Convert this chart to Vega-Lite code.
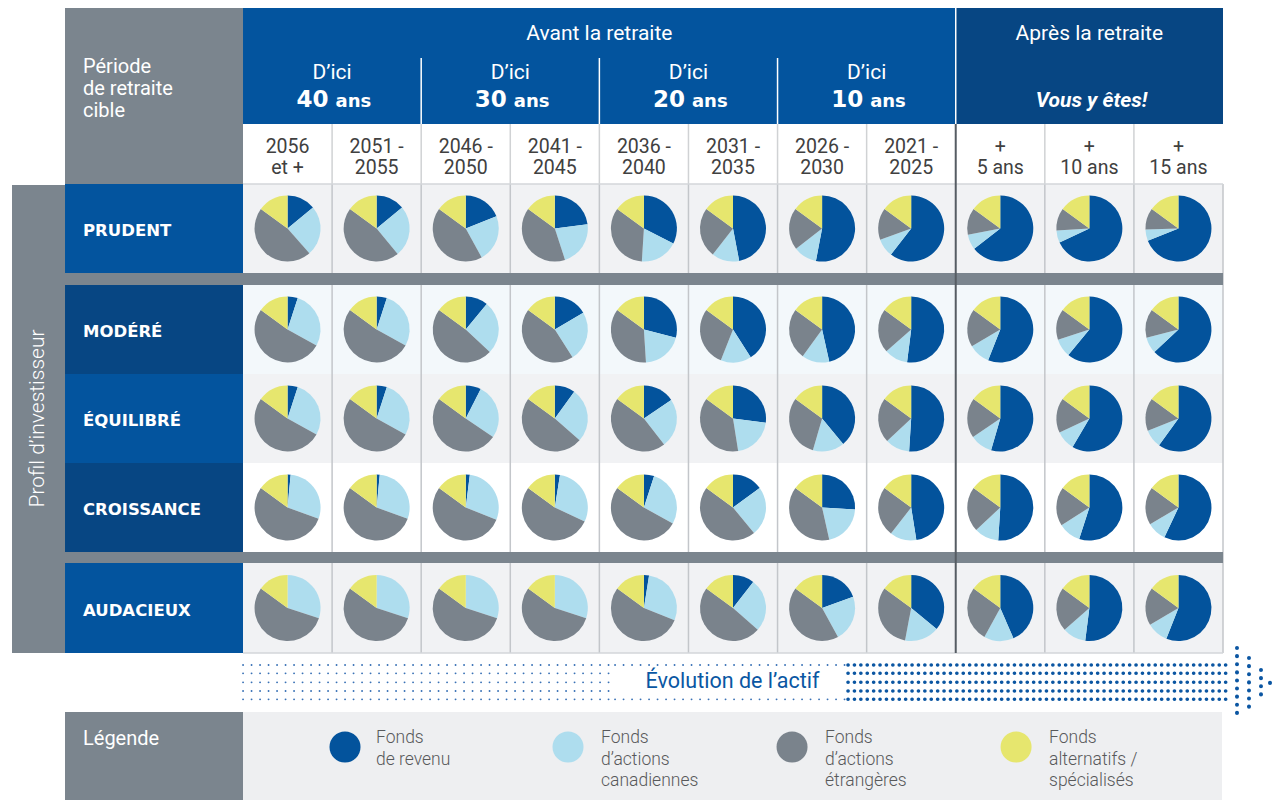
{
"$schema":"https://vega.github.io/schema/vega-lite/v6.json",
"width":1273,"height":800,"padding":0,"autosize":{"type":"none"},"background":"#ffffff",
"config":{"view":{"stroke":null}},
"datasets":{
"periods":[
{"period":"2056 et +","label":"2056\net +","col":0},
{"period":"2051-2055","label":"2051 -\n2055","col":1},
{"period":"2046-2050","label":"2046 -\n2050","col":2},
{"period":"2041-2045","label":"2041 -\n2045","col":3},
{"period":"2036-2040","label":"2036 -\n2040","col":4},
{"period":"2031-2035","label":"2031 -\n2035","col":5},
{"period":"2026-2030","label":"2026 -\n2030","col":6},
{"period":"2021-2025","label":"2021 -\n2025","col":7},
{"period":"+5 ans","label":"+\n5 ans","col":8},
{"period":"+10 ans","label":"+\n10 ans","col":9},
{"period":"+15 ans","label":"+\n15 ans","col":10}],
"profiles":[
{"profile":"PRUDENT","yc":0},
{"profile":"MODÉRÉ","yc":1.1337},
{"profile":"ÉQUILIBRÉ","yc":2.1327},
{"profile":"CROISSANCE","yc":3.1317},
{"profile":"AUDACIEUX","yc":4.2598}],
"funds":[
{"fund":"revenu","k":1,"label":"Fonds\nde revenu","lx":0.6449,"tx":0.9932},
{"fund":"canadiennes","k":2,"label":"Fonds\nd’actions\ncanadiennes","lx":3.148,"tx":3.5188},
{"fund":"etrangeres","k":3,"label":"Fonds\nd’actions\nétrangères","lx":5.6627,"tx":6.033},
{"fund":"alternatifs","k":4,"label":"Fonds\nalternatifs /\nspécialisés","lx":8.1773,"tx":8.5473}],
"alloc":[
{"profile":"PRUDENT","period":"2056 et +","revenu":14,"canadiennes":24.5,"etrangeres":46.5,"alternatifs":15},
{"profile":"PRUDENT","period":"2051-2055","revenu":14,"canadiennes":25,"etrangeres":46,"alternatifs":15},
{"profile":"PRUDENT","period":"2046-2050","revenu":19,"canadiennes":23,"etrangeres":43,"alternatifs":15},
{"profile":"PRUDENT","period":"2041-2045","revenu":23,"canadiennes":22,"etrangeres":40,"alternatifs":15},
{"profile":"PRUDENT","period":"2036-2040","revenu":32.5,"canadiennes":18.5,"etrangeres":34,"alternatifs":15},
{"profile":"PRUDENT","period":"2031-2035","revenu":47,"canadiennes":13.5,"etrangeres":24.5,"alternatifs":15},
{"profile":"PRUDENT","period":"2026-2030","revenu":53,"canadiennes":11.5,"etrangeres":20.5,"alternatifs":15},
{"profile":"PRUDENT","period":"2021-2025","revenu":60.5,"canadiennes":9,"etrangeres":15.5,"alternatifs":15},
{"profile":"PRUDENT","period":"+5 ans","revenu":64.5,"canadiennes":7.5,"etrangeres":13,"alternatifs":15},
{"profile":"PRUDENT","period":"+10 ans","revenu":68,"canadiennes":6,"etrangeres":11,"alternatifs":15},
{"profile":"PRUDENT","period":"+15 ans","revenu":69,"canadiennes":5.5,"etrangeres":10.5,"alternatifs":15},
{"profile":"MODÉRÉ","period":"2056 et +","revenu":5,"canadiennes":28,"etrangeres":52,"alternatifs":15},
{"profile":"MODÉRÉ","period":"2051-2055","revenu":5,"canadiennes":28,"etrangeres":52,"alternatifs":15},
{"profile":"MODÉRÉ","period":"2046-2050","revenu":11,"canadiennes":26,"etrangeres":48,"alternatifs":15},
{"profile":"MODÉRÉ","period":"2041-2045","revenu":16.5,"canadiennes":24.5,"etrangeres":44,"alternatifs":15},
{"profile":"MODÉRÉ","period":"2036-2040","revenu":29,"canadiennes":20,"etrangeres":36,"alternatifs":15},
{"profile":"MODÉRÉ","period":"2031-2035","revenu":41,"canadiennes":15,"etrangeres":29,"alternatifs":15},
{"profile":"MODÉRÉ","period":"2026-2030","revenu":46.5,"canadiennes":13.5,"etrangeres":25,"alternatifs":15},
{"profile":"MODÉRÉ","period":"2021-2025","revenu":52,"canadiennes":11.5,"etrangeres":21.5,"alternatifs":15},
{"profile":"MODÉRÉ","period":"+5 ans","revenu":56,"canadiennes":10.5,"etrangeres":18.5,"alternatifs":15},
{"profile":"MODÉRÉ","period":"+10 ans","revenu":61,"canadiennes":9,"etrangeres":15,"alternatifs":15},
{"profile":"MODÉRÉ","period":"+15 ans","revenu":63,"canadiennes":8,"etrangeres":14,"alternatifs":15},
{"profile":"ÉQUILIBRÉ","period":"2056 et +","revenu":5,"canadiennes":28,"etrangeres":52,"alternatifs":15},
{"profile":"ÉQUILIBRÉ","period":"2051-2055","revenu":5,"canadiennes":28,"etrangeres":52,"alternatifs":15},
{"profile":"ÉQUILIBRÉ","period":"2046-2050","revenu":7.5,"canadiennes":27,"etrangeres":50.5,"alternatifs":15},
{"profile":"ÉQUILIBRÉ","period":"2041-2045","revenu":10,"canadiennes":26.5,"etrangeres":48.5,"alternatifs":15},
{"profile":"ÉQUILIBRÉ","period":"2036-2040","revenu":15.5,"canadiennes":24,"etrangeres":45.5,"alternatifs":15},
{"profile":"ÉQUILIBRÉ","period":"2031-2035","revenu":27,"canadiennes":20.5,"etrangeres":37.5,"alternatifs":15},
{"profile":"ÉQUILIBRÉ","period":"2026-2030","revenu":39,"canadiennes":15.5,"etrangeres":30.5,"alternatifs":15},
{"profile":"ÉQUILIBRÉ","period":"2021-2025","revenu":51,"canadiennes":12,"etrangeres":22,"alternatifs":15},
{"profile":"ÉQUILIBRÉ","period":"+5 ans","revenu":54.5,"canadiennes":11,"etrangeres":19.5,"alternatifs":15},
{"profile":"ÉQUILIBRÉ","period":"+10 ans","revenu":58.5,"canadiennes":9.5,"etrangeres":17,"alternatifs":15},
{"profile":"ÉQUILIBRÉ","period":"+15 ans","revenu":60,"canadiennes":9,"etrangeres":16,"alternatifs":15},
{"profile":"CROISSANCE","period":"2056 et +","revenu":1.5,"canadiennes":29,"etrangeres":54.5,"alternatifs":15},
{"profile":"CROISSANCE","period":"2051-2055","revenu":1.5,"canadiennes":29,"etrangeres":54.5,"alternatifs":15},
{"profile":"CROISSANCE","period":"2046-2050","revenu":2,"canadiennes":29,"etrangeres":54,"alternatifs":15},
{"profile":"CROISSANCE","period":"2041-2045","revenu":2.5,"canadiennes":29.5,"etrangeres":53,"alternatifs":15},
{"profile":"CROISSANCE","period":"2036-2040","revenu":5,"canadiennes":28,"etrangeres":52,"alternatifs":15},
{"profile":"CROISSANCE","period":"2031-2035","revenu":15,"canadiennes":24,"etrangeres":46,"alternatifs":15},
{"profile":"CROISSANCE","period":"2026-2030","revenu":26,"canadiennes":20.5,"etrangeres":38.5,"alternatifs":15},
{"profile":"CROISSANCE","period":"2021-2025","revenu":47.5,"canadiennes":13,"etrangeres":24.5,"alternatifs":15},
{"profile":"CROISSANCE","period":"+5 ans","revenu":51,"canadiennes":12,"etrangeres":22,"alternatifs":15},
{"profile":"CROISSANCE","period":"+10 ans","revenu":55,"canadiennes":11,"etrangeres":19,"alternatifs":15},
{"profile":"CROISSANCE","period":"+15 ans","revenu":57,"canadiennes":9.5,"etrangeres":18.5,"alternatifs":15},
{"profile":"AUDACIEUX","period":"2056 et +","revenu":0,"canadiennes":30,"etrangeres":55,"alternatifs":15},
{"profile":"AUDACIEUX","period":"2051-2055","revenu":0,"canadiennes":30,"etrangeres":55,"alternatifs":15},
{"profile":"AUDACIEUX","period":"2046-2050","revenu":0,"canadiennes":30,"etrangeres":55,"alternatifs":15},
{"profile":"AUDACIEUX","period":"2041-2045","revenu":0,"canadiennes":30,"etrangeres":55,"alternatifs":15},
{"profile":"AUDACIEUX","period":"2036-2040","revenu":2.5,"canadiennes":28.5,"etrangeres":54,"alternatifs":15},
{"profile":"AUDACIEUX","period":"2031-2035","revenu":10.5,"canadiennes":26,"etrangeres":48.5,"alternatifs":15},
{"profile":"AUDACIEUX","period":"2026-2030","revenu":19.5,"canadiennes":22.5,"etrangeres":43,"alternatifs":15},
{"profile":"AUDACIEUX","period":"2021-2025","revenu":36,"canadiennes":17,"etrangeres":32,"alternatifs":15},
{"profile":"AUDACIEUX","period":"+5 ans","revenu":43.5,"canadiennes":14.5,"etrangeres":27,"alternatifs":15},
{"profile":"AUDACIEUX","period":"+10 ans","revenu":52,"canadiennes":11.5,"etrangeres":21.5,"alternatifs":15},
{"profile":"AUDACIEUX","period":"+15 ans","revenu":56,"canadiennes":10.5,"etrangeres":18.5,"alternatifs":15}],
"rects":[
{"x":-2.498,"x2":-0.5,"y":-2.475,"y2":-0.4995,"kind":"gray"},
{"x":-0.5,"x2":7.5,"y":-2.475,"y2":-1.173,"kind":"blue"},
{"x":7.5,"x2":10.5,"y":-2.475,"y2":-1.173,"kind":"dark"},
{"x":-0.5,"x2":10.5,"y":-1.173,"y2":-0.4995,"kind":"white"},
{"x":-3.0929,"x2":-2.498,"y":-0.4883,"y2":4.7649,"kind":"gray"},
{"x":-2.498,"x2":-0.5,"y":-0.4995,"y2":0.4995,"kind":"blue"},
{"x":-0.5,"x2":10.5,"y":-0.4995,"y2":0.4995,"kind":"cellA"},
{"x":-2.498,"x2":-0.5,"y":0.6342,"y2":1.6332,"kind":"dark"},
{"x":-0.5,"x2":10.5,"y":0.6342,"y2":1.6332,"kind":"cellB"},
{"x":-2.498,"x2":-0.5,"y":1.6332,"y2":2.6322,"kind":"blue"},
{"x":-0.5,"x2":10.5,"y":1.6332,"y2":2.6322,"kind":"cellA"},
{"x":-2.498,"x2":-0.5,"y":2.6322,"y2":3.6312,"kind":"dark"},
{"x":-0.5,"x2":10.5,"y":2.6322,"y2":3.6312,"kind":"white"},
{"x":-2.498,"x2":-0.5,"y":3.7546,"y2":4.7649,"kind":"blue"},
{"x":-0.5,"x2":10.5,"y":3.7546,"y2":4.7649,"kind":"cellA"},
{"x":-2.498,"x2":-0.5,"y":5.4271,"y2":6.4149,"kind":"gray"},
{"x":-0.5,"x2":10.489,"y":5.4271,"y2":6.4149,"kind":"legend"}],
"gaps":[
{"x":-2.498,"x2":10.5,"y":0.4995,"y2":0.6342},
{"x":-2.498,"x2":10.5,"y":3.6312,"y2":3.7546}],
"lines":[
{"kind":"ysep","x":0.5,"y":-1.173,"y2":-0.4995},{"kind":"ysep","x":1.5,"y":-1.173,"y2":-0.4995},{"kind":"ysep","x":2.5,"y":-1.173,"y2":-0.4995},{"kind":"ysep","x":3.5,"y":-1.173,"y2":-0.4995},{"kind":"ysep","x":4.5,"y":-1.173,"y2":-0.4995},{"kind":"ysep","x":5.5,"y":-1.173,"y2":-0.4995},{"kind":"ysep","x":6.5,"y":-1.173,"y2":-0.4995},{"kind":"ysep","x":8.5,"y":-1.173,"y2":-0.4995},{"kind":"ysep","x":9.5,"y":-1.173,"y2":-0.4995},
{"kind":"gsep","x":0.5,"y":-0.4995,"y2":4.7649},{"kind":"gsep","x":1.5,"y":-0.4995,"y2":4.7649},{"kind":"gsep","x":2.5,"y":-0.4995,"y2":4.7649},{"kind":"gsep","x":3.5,"y":-0.4995,"y2":4.7649},{"kind":"gsep","x":4.5,"y":-0.4995,"y2":4.7649},{"kind":"gsep","x":5.5,"y":-0.4995,"y2":4.7649},{"kind":"gsep","x":6.5,"y":-0.4995,"y2":4.7649},{"kind":"gsep","x":8.5,"y":-0.4995,"y2":4.7649},{"kind":"gsep","x":9.5,"y":-0.4995,"y2":4.7649},{"kind":"gsep","x":10.5,"y":-0.4995,"y2":4.7649},
{"kind":"main","x":7.5,"y":-1.173,"y2":4.7649},
{"kind":"hsep","x":1.5,"y":-1.9138,"y2":-1.173},{"kind":"hsep","x":3.5,"y":-1.9138,"y2":-1.173},{"kind":"hsep","x":5.5,"y":-1.9138,"y2":-1.173},{"kind":"hsep","x":7.5,"y":-2.475,"y2":-1.173}],
"hlines":[{"x":-0.5,"x2":10.5,"y":-0.4995},{"x":-0.5,"x2":10.5,"y":4.7649}],
"labels":[
{"style":"hdr","txt":"Avant la retraite","x":3.5,"y":-2.181},
{"style":"hdr","txt":"Après la retraite","x":9.0,"y":-2.181},
{"style":"hdr","txt":"D’ici","x":0.5,"y":-1.742},
{"style":"hdr","txt":"D’ici","x":2.5,"y":-1.742},
{"style":"hdr","txt":"D’ici","x":4.5,"y":-1.742},
{"style":"hdr","txt":"D’ici","x":6.5,"y":-1.742},
{"style":"left","txt":"Période\nde retraite\ncible","x":-2.296,"y":-1.81},
{"style":"left","txt":"Légende","x":-2.296,"y":5.7301},
{"style":"num","txt":"40","x":0.5,"y":-1.3672},
{"style":"num","txt":"30","x":2.5,"y":-1.3672},
{"style":"num","txt":"20","x":4.5,"y":-1.3672},
{"style":"num","txt":"10","x":6.5,"y":-1.3672},
{"style":"ans","txt":"ans","x":0.5,"y":-1.3672},
{"style":"ans","txt":"ans","x":2.5,"y":-1.3672},
{"style":"ans","txt":"ans","x":4.5,"y":-1.3672},
{"style":"ans","txt":"ans","x":6.5,"y":-1.3672},
{"style":"vous","txt":"Vous y êtes!","x":9.024,"y":-1.3672},
{"style":"strip","txt":"Profil d’investisseur","x":-2.801,"y":2.1327},
{"style":"evol","txt":"Évolution de l’actif","x":4.9945,"y":5.0938}],
"dots":[
{"kind":"small","x":-0.5,"x2":3.6755,"y":4.8996},
{"kind":"small","x":-0.5,"x2":3.6755,"y":4.9927},
{"kind":"small","x":-0.5,"x2":3.6755,"y":5.0938},
{"kind":"small","x":-0.5,"x2":3.6755,"y":5.1914},
{"kind":"small","x":-0.5,"x2":3.6755,"y":5.2846},
{"kind":"small","x":3.6755,"x2":6.2908,"y":4.8996},
{"kind":"small","x":3.6755,"x2":6.2908,"y":5.2846},
{"kind":"big","x":6.2908,"x2":10.55,"y":4.8996},
{"kind":"big","x":6.2908,"x2":10.55,"y":4.9927},
{"kind":"big","x":6.2908,"x2":10.55,"y":5.0938},
{"kind":"big","x":6.2908,"x2":10.55,"y":5.1914},
{"kind":"big","x":6.2908,"x2":10.55,"y":5.2846}],
"arrow":[
{"x":10.6571,"y":4.7087,"y2":5.4944},
{"x":10.7918,"y":4.8209,"y2":5.3822},
{"x":10.9265,"y":4.9556,"y2":5.2587},
{"x":11.0275,"y":5.1,"y2":5.11}]
},
"layer":[
{"data":{"name":"rects"},"mark":{"type":"rect","strokeWidth":0},
 "encoding":{"x":{"field":"x","type":"quantitative","scale":{"domain":[-3.2277,11.0612],"nice":false,"zero":false},"axis":null},"x2":{"field":"x2"},
 "y":{"field":"y","type":"quantitative","scale":{"domain":[-2.5648,6.4149],"nice":false,"zero":false,"reverse":true},"axis":null},"y2":{"field":"y2"},
 "fill":{"field":"kind","type":"nominal","scale":{"domain":["gray","blue","dark","white","cellA","cellB","legend"],"range":["#7B858E","#03549E","#074683","#FFFFFF","#F1F2F4","#F3F8FB","#EEEFF1"]},"legend":null}}},
{"data":{"name":"lines"},"transform":[{"filter":"datum.kind==='ysep'"}],"mark":{"type":"rule","stroke":"#D0D2D4","strokeWidth":1.5},
 "encoding":{"x":{"field":"x","type":"quantitative","scale":{"domain":[-3.2277,11.0612],"nice":false,"zero":false},"axis":null},
 "y":{"field":"y","type":"quantitative","scale":{"domain":[-2.5648,6.4149],"nice":false,"zero":false,"reverse":true},"axis":null},"y2":{"field":"y2"}}},
{"data":{"name":"lines"},"transform":[{"filter":"datum.kind==='gsep'"}],"mark":{"type":"rule","stroke":"#C3C6CA","strokeWidth":1.5},
 "encoding":{"x":{"field":"x","type":"quantitative","scale":{"domain":[-3.2277,11.0612],"nice":false,"zero":false},"axis":null},
 "y":{"field":"y","type":"quantitative","scale":{"domain":[-2.5648,6.4149],"nice":false,"zero":false,"reverse":true},"axis":null},"y2":{"field":"y2"}}},
{"data":{"name":"hlines"},"mark":{"type":"rule","stroke":"#D3D6DA","strokeWidth":1.5},
 "encoding":{"x":{"field":"x","type":"quantitative","scale":{"domain":[-3.2277,11.0612],"nice":false,"zero":false},"axis":null},"x2":{"field":"x2"},
 "y":{"field":"y","type":"quantitative","scale":{"domain":[-2.5648,6.4149],"nice":false,"zero":false,"reverse":true},"axis":null}}},
{"data":{"name":"gaps"},"mark":{"type":"rect","fill":"#7B858E","strokeWidth":0},
 "encoding":{"x":{"field":"x","type":"quantitative","scale":{"domain":[-3.2277,11.0612],"nice":false,"zero":false},"axis":null},"x2":{"field":"x2"},
 "y":{"field":"y","type":"quantitative","scale":{"domain":[-2.5648,6.4149],"nice":false,"zero":false,"reverse":true},"axis":null},"y2":{"field":"y2"}}},
{"data":{"name":"lines"},"transform":[{"filter":"datum.kind==='main'"}],"mark":{"type":"rule","stroke":"#565C63","strokeWidth":2},
 "encoding":{"x":{"field":"x","type":"quantitative","scale":{"domain":[-3.2277,11.0612],"nice":false,"zero":false},"axis":null},
 "y":{"field":"y","type":"quantitative","scale":{"domain":[-2.5648,6.4149],"nice":false,"zero":false,"reverse":true},"axis":null},"y2":{"field":"y2"}}},
{"data":{"name":"lines"},"transform":[{"filter":"datum.kind==='hsep'"}],"mark":{"type":"rule","stroke":"#FFFFFF","strokeWidth":1.5},
 "encoding":{"x":{"field":"x","type":"quantitative","scale":{"domain":[-3.2277,11.0612],"nice":false,"zero":false},"axis":null},
 "y":{"field":"y","type":"quantitative","scale":{"domain":[-2.5648,6.4149],"nice":false,"zero":false,"reverse":true},"axis":null},"y2":{"field":"y2"}}},
{"data":{"name":"alloc"},
 "transform":[
  {"fold":["revenu","canadiennes","etrangeres","alternatifs"],"as":["fund","share"]},
  {"lookup":"fund","from":{"data":{"name":"funds"},"key":"fund","fields":["k"]}},
  {"lookup":"period","from":{"data":{"name":"periods"},"key":"period","fields":["col"]}},
  {"lookup":"profile","from":{"data":{"name":"profiles"},"key":"profile","fields":["yc"]}},
  {"stack":"share","groupby":["profile","period"],"sort":[{"field":"k","order":"ascending"}],"offset":"normalize","as":["t0","t1"]}],
 "mark":{"type":"arc","outerRadius":33},
 "encoding":{"x":{"field":"col","type":"quantitative","scale":{"domain":[-3.2277,11.0612],"nice":false,"zero":false},"axis":null},
 "y":{"field":"yc","type":"quantitative","scale":{"domain":[-2.5648,6.4149],"nice":false,"zero":false,"reverse":true},"axis":null},
 "theta":{"field":"t0","type":"quantitative","stack":null,"scale":{"domain":[0,1]}},"theta2":{"field":"t1"},
 "color":{"field":"fund","type":"nominal","scale":{"domain":["revenu","canadiennes","etrangeres","alternatifs"],"range":["#03539C","#AEDDEE","#7A838C","#E6E66E"]},"legend":null}}},
{"data":{"name":"funds"},"mark":{"type":"point","shape":"circle","filled":true,"size":962,"opacity":1},
 "encoding":{"x":{"field":"lx","type":"quantitative","scale":{"domain":[-3.2277,11.0612],"nice":false,"zero":false},"axis":null},
 "y":{"datum":5.82,"type":"quantitative","scale":{"domain":[-2.5648,6.4149],"nice":false,"zero":false,"reverse":true},"axis":null},
 "color":{"field":"fund","type":"nominal","scale":{"domain":["revenu","canadiennes","etrangeres","alternatifs"],"range":["#03539C","#AEDDEE","#7A838C","#E6E66E"]},"legend":null}}},
{"data":{"name":"funds"},"mark":{"type":"text","font":"Roboto","fontWeight":300,"fontSize":17.5,"fill":"#58595B","align":"left","baseline":"middle","lineBreak":"\n","lineHeight":21.6},
 "encoding":{"x":{"field":"tx","type":"quantitative","scale":{"domain":[-3.2277,11.0612],"nice":false,"zero":false},"axis":null},
 "y":{"datum":5.7223,"type":"quantitative","scale":{"domain":[-2.5648,6.4149],"nice":false,"zero":false,"reverse":true},"axis":null},
 "text":{"field":"label"}}},
{"data":{"name":"periods"},"mark":{"type":"text","font":"Roboto","fontSize":19.5,"fill":"#404040","align":"center","baseline":"middle","lineBreak":"\n","lineHeight":21,"dy":2},
 "encoding":{"x":{"field":"col","type":"quantitative","scale":{"domain":[-3.2277,11.0612],"nice":false,"zero":false},"axis":null},
 "y":{"datum":-0.9373,"type":"quantitative","scale":{"domain":[-2.5648,6.4149],"nice":false,"zero":false,"reverse":true},"axis":null},
 "text":{"field":"label"}}},
{"data":{"name":"profiles"},"mark":{"type":"text","font":"DejaVu Sans","fontWeight":"bold","fontSize":16.5,"fill":"#FFFFFF","align":"left","baseline":"middle","dy":2.5},
 "encoding":{"x":{"datum":-2.296,"type":"quantitative","scale":{"domain":[-3.2277,11.0612],"nice":false,"zero":false},"axis":null},
 "y":{"field":"yc","type":"quantitative","scale":{"domain":[-2.5648,6.4149],"nice":false,"zero":false,"reverse":true},"axis":null},
 "text":{"field":"profile"}}},
{"data":{"name":"labels"},"transform":[{"filter":"datum.style==='hdr'"}],"mark":{"type":"text","font":"Roboto","fontSize":21,"fill":"#FFFFFF","align":"center","baseline":"middle"},
 "encoding":{"x":{"field":"x","type":"quantitative","scale":{"domain":[-3.2277,11.0612],"nice":false,"zero":false},"axis":null},
 "y":{"field":"y","type":"quantitative","scale":{"domain":[-2.5648,6.4149],"nice":false,"zero":false,"reverse":true},"axis":null},"text":{"field":"txt"}}},
{"data":{"name":"labels"},"transform":[{"filter":"datum.style==='left'"}],"mark":{"type":"text","font":"Roboto","fontSize":20,"fill":"#FFFFFF","align":"left","baseline":"middle","lineBreak":"\n","lineHeight":21.7},
 "encoding":{"x":{"field":"x","type":"quantitative","scale":{"domain":[-3.2277,11.0612],"nice":false,"zero":false},"axis":null},
 "y":{"field":"y","type":"quantitative","scale":{"domain":[-2.5648,6.4149],"nice":false,"zero":false,"reverse":true},"axis":null},"text":{"field":"txt"}}},
{"data":{"name":"labels"},"transform":[{"filter":"datum.style==='num'"}],"mark":{"type":"text","font":"DejaVu Sans","fontWeight":"bold","fontSize":23,"fill":"#FFFFFF","align":"right","baseline":"alphabetic","dx":-3.5},
 "encoding":{"x":{"field":"x","type":"quantitative","scale":{"domain":[-3.2277,11.0612],"nice":false,"zero":false},"axis":null},
 "y":{"field":"y","type":"quantitative","scale":{"domain":[-2.5648,6.4149],"nice":false,"zero":false,"reverse":true},"axis":null},"text":{"field":"txt"}}},
{"data":{"name":"labels"},"transform":[{"filter":"datum.style==='ans'"}],"mark":{"type":"text","font":"DejaVu Sans","fontWeight":"bold","fontSize":18,"fill":"#FFFFFF","align":"left","baseline":"alphabetic","dx":3.5},
 "encoding":{"x":{"field":"x","type":"quantitative","scale":{"domain":[-3.2277,11.0612],"nice":false,"zero":false},"axis":null},
 "y":{"field":"y","type":"quantitative","scale":{"domain":[-2.5648,6.4149],"nice":false,"zero":false,"reverse":true},"axis":null},"text":{"field":"txt"}}},
{"data":{"name":"labels"},"transform":[{"filter":"datum.style==='vous'"}],"mark":{"type":"text","font":"Roboto","fontWeight":"bold","fontStyle":"italic","fontSize":21,"fill":"#FFFFFF","align":"center","baseline":"alphabetic"},
 "encoding":{"x":{"field":"x","type":"quantitative","scale":{"domain":[-3.2277,11.0612],"nice":false,"zero":false},"axis":null},
 "y":{"field":"y","type":"quantitative","scale":{"domain":[-2.5648,6.4149],"nice":false,"zero":false,"reverse":true},"axis":null},"text":{"field":"txt"}}},
{"data":{"name":"labels"},"transform":[{"filter":"datum.style==='strip'"}],"mark":{"type":"text","font":"Roboto","fontWeight":300,"fontSize":21,"fill":"#FFFFFF","align":"center","baseline":"middle","angle":270},
 "encoding":{"x":{"field":"x","type":"quantitative","scale":{"domain":[-3.2277,11.0612],"nice":false,"zero":false},"axis":null},
 "y":{"field":"y","type":"quantitative","scale":{"domain":[-2.5648,6.4149],"nice":false,"zero":false,"reverse":true},"axis":null},"text":{"field":"txt"}}},
{"data":{"name":"labels"},"transform":[{"filter":"datum.style==='evol'"}],"mark":{"type":"text","font":"Roboto","fontSize":21.5,"fill":"#0A57A3","align":"center","baseline":"middle"},
 "encoding":{"x":{"field":"x","type":"quantitative","scale":{"domain":[-3.2277,11.0612],"nice":false,"zero":false},"axis":null},
 "y":{"field":"y","type":"quantitative","scale":{"domain":[-2.5648,6.4149],"nice":false,"zero":false,"reverse":true},"axis":null},"text":{"field":"txt"}}},
{"data":{"name":"dots"},"transform":[{"filter":"datum.kind==='small'"}],"mark":{"type":"rule","stroke":"#3A72B6","strokeWidth":1.8,"strokeCap":"round","strokeDash":[0.1,8.4]},
 "encoding":{"x":{"field":"x","type":"quantitative","scale":{"domain":[-3.2277,11.0612],"nice":false,"zero":false},"axis":null},"x2":{"field":"x2"},
 "y":{"field":"y","type":"quantitative","scale":{"domain":[-2.5648,6.4149],"nice":false,"zero":false,"reverse":true},"axis":null}}},
{"data":{"name":"dots"},"transform":[{"filter":"datum.kind==='big'"}],"mark":{"type":"rule","stroke":"#0B56A2","strokeWidth":3.6,"strokeCap":"round","strokeDash":[0.1,6.3]},
 "encoding":{"x":{"field":"x","type":"quantitative","scale":{"domain":[-3.2277,11.0612],"nice":false,"zero":false},"axis":null},"x2":{"field":"x2"},
 "y":{"field":"y","type":"quantitative","scale":{"domain":[-2.5648,6.4149],"nice":false,"zero":false,"reverse":true},"axis":null}}},
{"data":{"name":"arrow"},"mark":{"type":"rule","stroke":"#0B56A2","strokeWidth":4,"strokeCap":"round","strokeDash":[0.1,8]},
 "encoding":{"x":{"field":"x","type":"quantitative","scale":{"domain":[-3.2277,11.0612],"nice":false,"zero":false},"axis":null},
 "y":{"field":"y","type":"quantitative","scale":{"domain":[-2.5648,6.4149],"nice":false,"zero":false,"reverse":true},"axis":null},"y2":{"field":"y2"}}}
]
}
